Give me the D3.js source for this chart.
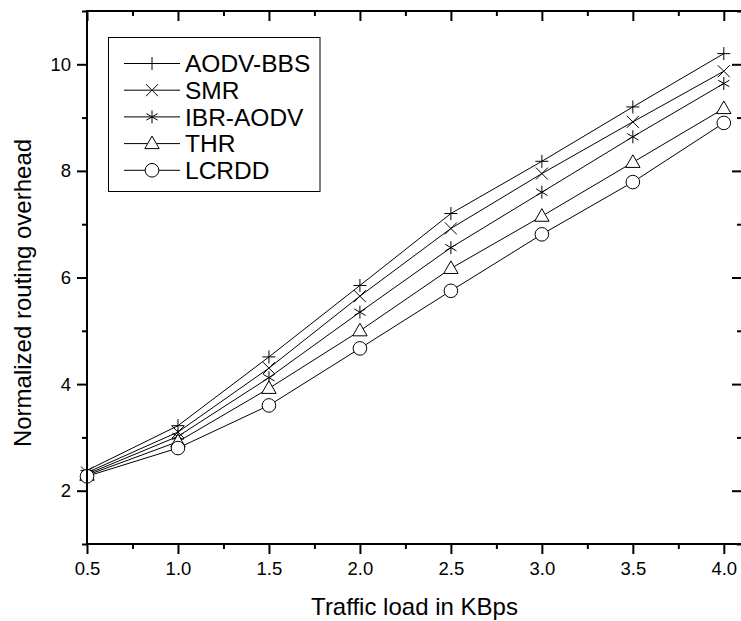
<!DOCTYPE html>
<html><head><meta charset="utf-8">
<script src="https://cdn.jsdelivr.net/npm/d3@7"></script>
<style>
body{margin:0;background:#fff;}
svg{display:block;font-family:"Liberation Sans",Arial,sans-serif;}
</style></head>
<body>
<svg id="c" width="741" height="621"></svg>
<script>
const xValues = [0.5, 1.0, 1.5, 2.0, 2.5, 3.0, 3.5, 4.0];
const seriesNames = ["AODV-BBS", "SMR", "IBR-AODV", "THR", "LCRDD"];
const aodvBbs = [2.38, 3.22, 4.51, 5.85, 7.20, 8.18, 9.20, 10.20];
const smr     = [2.34, 3.10, 4.30, 5.65, 6.92, 7.95, 8.92, 9.87];
const ibrAodv = [2.31, 3.02, 4.12, 5.35, 6.56, 7.60, 8.64, 9.64];
const thr     = [2.29, 2.92, 3.92, 5.00, 6.17, 7.15, 8.16, 9.17];
const lcrdd   = [2.27, 2.80, 3.60, 4.67, 5.75, 6.81, 7.79, 8.90];
const xTickLabels = ["0.5","1.0","1.5","2.0","2.5","3.0","3.5","4.0"];
const yTickLabels = ["2","4","6","8","10"];
const xTitle = "Traffic load in KBps";
const yTitle = "Normalized routing overhead";

const seriesValues = [aodvBbs, smr, ibrAodv, thr, lcrdd];
const markerTypes = ["plus", "x", "star", "triangle", "circle"];

const L = 87, R = 742, T = 11, B = 544;
const svg = d3.select("#c");
const x = d3.scaleLinear().domain([0.5, 4.1]).range([L, R]);
const y = d3.scaleLinear().domain([1, 11]).range([B, T]);

function markerPath(type, s) {
  const p = d3.path();
  if (type === "plus") {
    p.moveTo(-s, 0); p.lineTo(s, 0); p.moveTo(0, -s); p.lineTo(0, s);
  } else if (type === "x") {
    p.moveTo(-s, -s); p.lineTo(s, s); p.moveTo(-s, s); p.lineTo(s, -s);
  } else if (type === "star") {
    p.moveTo(0, -s); p.lineTo(0, s);
    const dx = s * Math.cos(Math.PI / 6), dy = s * Math.sin(Math.PI / 6);
    p.moveTo(-dx, -dy); p.lineTo(dx, dy); p.moveTo(-dx, dy); p.lineTo(dx, -dy);
  } else if (type === "triangle") {
    const h = s * 1.75;
    p.moveTo(0, -h * 0.6); p.lineTo(s, h * 0.4); p.lineTo(-s, h * 0.4); p.closePath();
  } else if (type === "circle") {
    p.moveTo(s, 0); p.arc(0, 0, s, 0, Math.PI * 2);
  }
  return p.toString();
}
const markerSize = {plus: 6.5, x: 6, star: 6.5, triangle: 7.2, circle: 6.8};

// series lines
const line = d3.line().x((d, i) => x(xValues[i])).y(d => y(d));
seriesValues.forEach((vals) => {
  svg.append("path").attr("d", line(vals)).attr("fill", "none")
    .attr("stroke", "#000").attr("stroke-width", 1);
});
seriesValues.forEach((vals, si) => {
  const t = markerTypes[si];
  svg.append("g").selectAll("path").data(vals).join("path")
    .attr("transform", (d, i) => `translate(${x(xValues[i])},${y(d)})`)
    .attr("d", markerPath(t, markerSize[t]))
    .attr("fill", (t === "circle" || t === "triangle") ? "#fff" : "none")
    .attr("stroke", "#000").attr("stroke-width", 1);
});

// axes
const xMajor = xValues;
const xMinor = d3.range(0.75, 4.1, 0.5);
const yMajor = [2, 4, 6, 8, 10];
const yMinor = [1, 3, 5, 7, 9, 11];

function styleAxis(g) {
  g.selectAll(".domain").remove();
  g.selectAll("line").attr("stroke", "#000").attr("stroke-width", 2);
  g.selectAll("text").attr("fill", "#000").attr("font-size", "18.5px")
    .attr("font-family", "'Liberation Sans', Arial, sans-serif");
}
// bottom
svg.append("g").attr("transform", `translate(0,${B})`)
  .call(d3.axisBottom(x).tickValues(xMajor).tickSize(10).tickPadding(8)
    .tickFormat((d, i) => xTickLabels[i])).call(styleAxis);
svg.append("g").attr("transform", `translate(0,${B})`)
  .call(d3.axisBottom(x).tickValues(xMinor).tickSize(5).tickFormat("")).call(styleAxis);
// top (inward)
svg.append("g").attr("transform", `translate(0,${T})`)
  .call(d3.axisTop(x).tickValues(xMajor).tickSize(-10).tickFormat("")).call(styleAxis);
svg.append("g").attr("transform", `translate(0,${T})`)
  .call(d3.axisTop(x).tickValues(xMinor).tickSize(-5).tickFormat("")).call(styleAxis);
// left
svg.append("g").attr("transform", `translate(${L},0)`)
  .call(d3.axisLeft(y).tickValues(yMajor).tickSize(10).tickPadding(6)
    .tickFormat((d, i) => yTickLabels[i])).call(styleAxis);
svg.append("g").attr("transform", `translate(${L},0)`)
  .call(d3.axisLeft(y).tickValues(yMinor).tickSize(5).tickFormat("")).call(styleAxis);
// right (inward)
svg.append("g").attr("transform", `translate(${R},0)`)
  .call(d3.axisRight(y).tickValues(yMajor).tickSize(-10).tickFormat("")).call(styleAxis);
svg.append("g").attr("transform", `translate(${R},0)`)
  .call(d3.axisRight(y).tickValues(yMinor).tickSize(-5).tickFormat("")).call(styleAxis);

// frame
svg.append("rect").attr("x", L).attr("y", T).attr("width", R - L).attr("height", B - T)
  .attr("fill", "none").attr("stroke", "#000").attr("stroke-width", 2);

// titles
svg.append("text").attr("x", (L + R) / 2).attr("y", 615).attr("text-anchor", "middle")
  .attr("font-size", "24px").text(xTitle);
svg.append("text").attr("transform", "translate(31,293) rotate(-90)").attr("text-anchor", "middle")
  .attr("font-size", "24px").text(yTitle);

// legend
const lg = svg.append("g");
lg.append("rect").attr("x", 108.5).attr("y", 37.5).attr("width", 211.5).attr("height", 154)
  .attr("fill", "#fff").attr("stroke", "#000").attr("stroke-width", 1);
seriesNames.forEach((name, i) => {
  const yy = 63.5 + i * 26.7;
  const t = markerTypes[i];
  lg.append("line").attr("x1", 124).attr("x2", 180).attr("y1", yy).attr("y2", yy)
    .attr("stroke", "#000").attr("stroke-width", 1);
  lg.append("path").attr("transform", `translate(152,${yy})`)
    .attr("d", markerPath(t, markerSize[t]))
    .attr("fill", (t === "circle" || t === "triangle") ? "#fff" : "none")
    .attr("stroke", "#000").attr("stroke-width", 1);
  lg.append("text").attr("x", 185).attr("y", yy).attr("dy", "0.36em")
    .attr("font-size", "24.5px").text(name);
});
</script>
</body></html>
